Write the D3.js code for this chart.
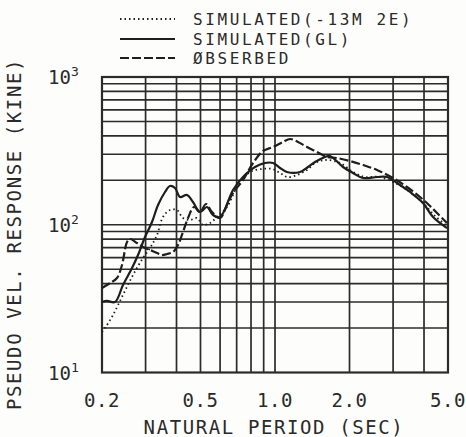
<!DOCTYPE html>
<html><head><meta charset="utf-8">
<script src="https://cdn.jsdelivr.net/npm/d3@7"></script>
<style>
html,body{margin:0;padding:0;background:#fdfdfb;}
svg{display:block;}
text{font-family:"DejaVu Sans Mono",monospace;fill:#2a2a2a;}
</style></head><body>
<svg id="c" width="466" height="437"></svg>
<script>
// ---- data ----
const xTickValues = [0.2, 0.5, 1.0, 2.0, 5.0];
const xTickLabels = ["0.2", "0.5", "1.0", "2.0", "5.0"];
const yTickValues = [10, 100, 1000];
const yTickExponents = ["1", "2", "3"];
const xGrid = [0.3,0.4,0.5,0.6,0.7,0.8,0.9,1,2,3,4];
const yGrid = [20,30,40,50,60,70,80,90,100,200,300,400,500,600,700,800,900];

const seriesNames = ["SIMULATED(-13M 2E)", "SIMULATED(GL)", "ØBSERBED"];

const simPeriod = [0.2,0.2057,0.2215,0.2431,0.2669,0.2929,0.3126,0.3336,0.3528,0.3765,0.4018,0.4249,0.4535,0.4841,0.5117,0.5463,0.583,0.6398,0.7025,0.7926,0.8862,0.9727,1.048,1.118,1.2272,1.3468,1.451,1.592,1.8307,2.066,2.31,2.656,3.111,3.511,3.963,4.432,4.954];
const simVel = [18.8,20.0,24.5,33.5,45.7,59.6,69.6,85.2,112.8,125.8,125.8,111.1,107.7,111.1,99.6,102.8,112.8,131.9,180.1,227.5,238.5,238.5,224.0,210.5,217.2,234.8,261.8,274.3,261.8,227.5,210.5,210.5,188.7,166.6,140.4,114.7,98.1];

const glPeriod = [0.2,0.2095,0.2258,0.2431,0.2644,0.2796,0.2984,0.3185,0.3368,0.3594,0.3765,0.3944,0.4133,0.4409,0.4663,0.4977,0.5313,0.5616,0.5997,0.6766,0.7426,0.8303,0.9112,0.9818,1.048,1.118,1.262,1.359,1.451,1.592,1.668,1.883,2.066,2.267,2.583,2.835,3.111,3.511,3.963,4.35,4.954];
const glVel = [30.0,30.5,30.0,39.1,50.9,62.4,82.6,104.4,136.1,166.6,182.9,177.3,154.1,159.0,142.6,122.0,131.9,116.4,112.8,171.9,210.5,246.0,261.8,261.8,242.2,227.5,227.5,246.0,265.9,287.4,292.0,246.0,224.0,207.2,210.5,210.5,191.7,166.6,140.4,112.8,95.0];

const obsPeriod = [0.2,0.2154,0.2299,0.2409,0.2524,0.2595,0.277,0.2929,0.3126,0.3336,0.3495,0.3661,0.3872,0.4056,0.4249,0.4451,0.4707,0.4977,0.5264,0.5565,0.5997,0.6398,0.6766,0.7426,0.815,0.8944,0.9818,1.0776,1.1498,1.2386,1.3468,1.478,1.6223,1.7803,2.0094,2.267,2.583,2.997,3.415,3.854,4.23,4.515,4.954];
const obsVel = [37.3,40.3,43.6,53.4,76.4,80.1,75.2,70.7,67.5,64.4,62.4,63.4,65.4,72.9,89.3,111.1,131.9,122.0,138.2,122.0,111.1,136.1,164.0,200.9,261.8,315.6,336.0,363.2,380.5,363.2,336.0,310.7,287.4,282.9,270.1,253.8,234.8,207.2,180.1,154.1,133.9,120.1,102.8];

// ---- layout ----
const svg = d3.select("#c");
const L = 102, R = 448, T = 77, B = 372.5;
const x = d3.scaleLog().domain([0.2, 5]).range([L, R]);
const y = d3.scaleLog().domain([10, 1000]).range([B, T]);
const ink = "#2b2b2b";

svg.append("rect").attr("width",466).attr("height",437).attr("fill","#fdfdfb");

// grid
const g = svg.append("g");
g.selectAll("line.v").data(xGrid).join("line")
  .attr("x1", d=>x(d)).attr("x2", d=>x(d)).attr("y1", T).attr("y2", B)
  .attr("stroke", ink).attr("stroke-width", 1.7);
g.selectAll("line.h").data(yGrid).join("line")
  .attr("y1", d=>y(d)).attr("y2", d=>y(d)).attr("x1", L).attr("x2", R)
  .attr("stroke", ink).attr("stroke-width", 1.7);
g.append("rect").attr("x", L).attr("y", T).attr("width", R-L).attr("height", B-T)
  .attr("fill","none").attr("stroke", ink).attr("stroke-width", 2.2);

// x tick labels
svg.selectAll("text.xt").data(xTickValues).join("text")
  .attr("x", d=>x(d)).attr("y", 407).attr("text-anchor","middle")
  .attr("font-size", 19).attr("letter-spacing", 0.5)
  .text((d,i)=>xTickLabels[i]);

// y tick labels
yTickValues.forEach((v,i)=>{
  const t = svg.append("text").attr("x", 48).attr("y", y(v)+7).attr("font-size", 19);
  t.append("tspan").text("10");
  t.append("tspan").attr("dy", -8).attr("font-size", 13).text(yTickExponents[i]);
});

// axis titles
svg.append("text").attr("x", 274).attr("y", 434).attr("text-anchor","middle")
  .attr("font-size", 19).attr("letter-spacing", 1.6).text("NATURAL PERIOD (SEC)");
svg.append("text").attr("transform","translate(21,234) rotate(-90)")
  .attr("text-anchor","middle").attr("font-size", 19).attr("letter-spacing", 1.6)
  .text("PSEUDO VEL. RESPONSE (KINE)");

// curves
const line = d3.line().x(d=>x(d[0])).y(d=>y(d[1])).curve(d3.curveCatmullRom.alpha(0.5));
const series = [
  {p: simPeriod, v: simVel, dash: "1.5,3", w: 1.8},
  {p: glPeriod, v: glVel, dash: null, w: 2.2},
  {p: obsPeriod, v: obsVel, dash: "9,3", w: 2.2}
];
const plot = svg.append("g");
series.forEach(s=>{
  plot.append("path").datum(d3.zip(s.p, s.v)).attr("d", line)
    .attr("fill","none").attr("stroke", "#1e1e1e").attr("stroke-width", s.w)
    .attr("stroke-dasharray", s.dash);
});

// legend
const legY = [19, 39, 58];
const legTextY = [25, 45, 64];
series.forEach((s,i)=>{
  svg.append("line").attr("x1",120).attr("x2",175).attr("y1",legY[i]).attr("y2",legY[i])
    .attr("stroke","#1e1e1e").attr("stroke-width", s.w).attr("stroke-dasharray", s.dash);
  svg.append("text").attr("x",193).attr("y",legTextY[i]).attr("font-size",16)
    .attr("letter-spacing",2.6).text(seriesNames[i]);
});
</script>
</body></html>
